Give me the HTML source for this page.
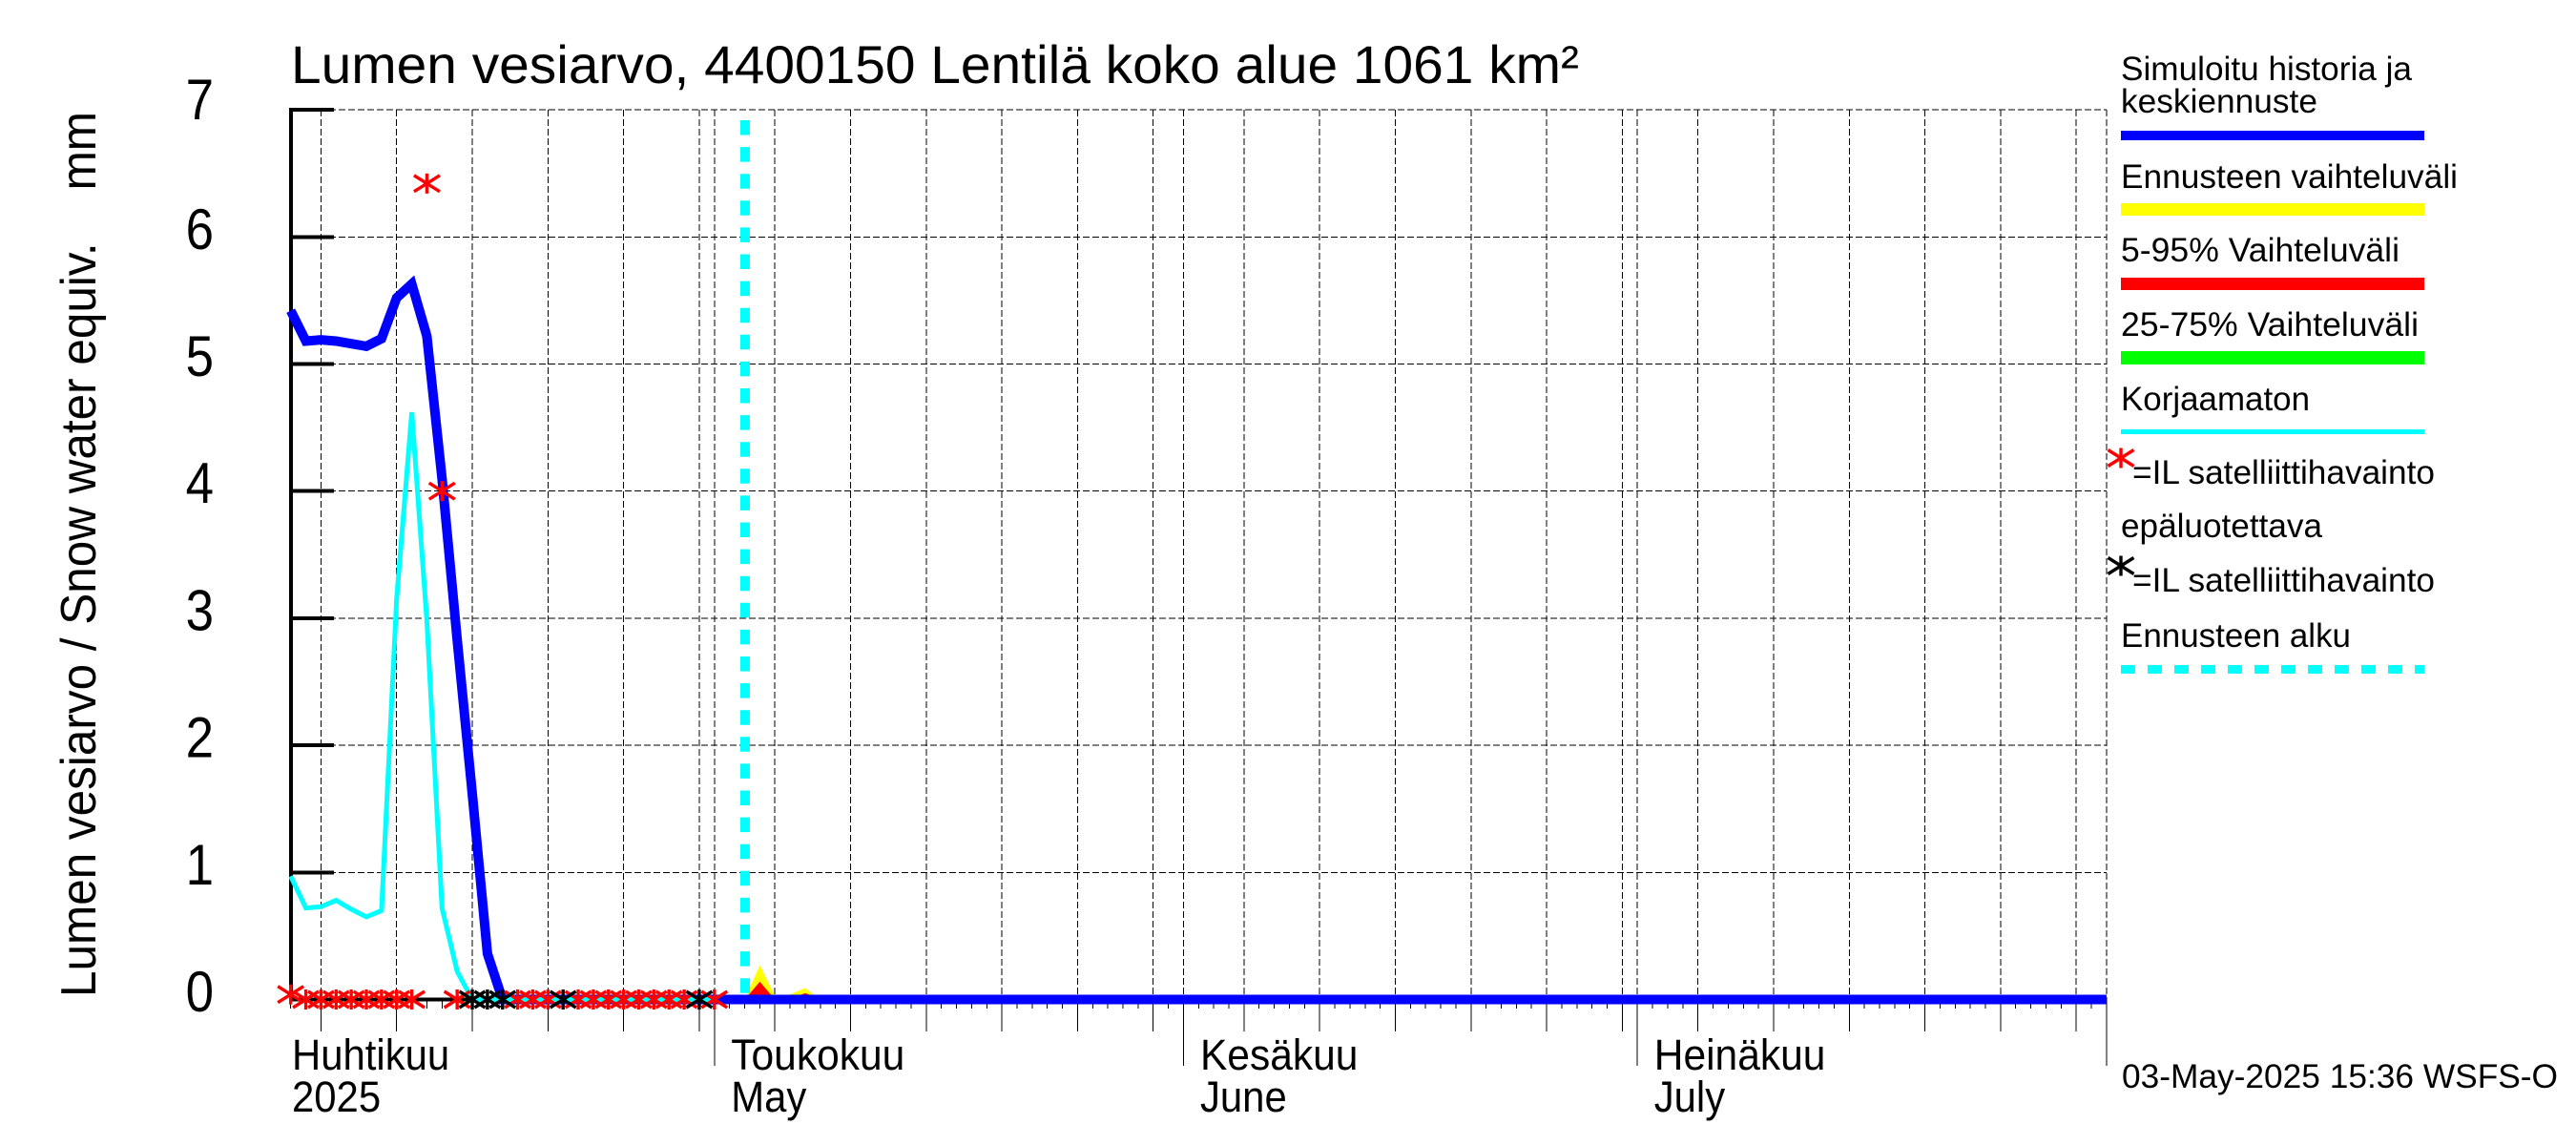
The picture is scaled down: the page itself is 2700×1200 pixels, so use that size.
<!DOCTYPE html>
<html lang="fi">
<head>
<meta charset="utf-8">
<title>Lumen vesiarvo</title>
<style>
html,body{margin:0;padding:0;background:#fff;}
svg{display:block;font-family:"Liberation Sans",sans-serif;}
text{fill:#000;}
</style>
</head>
<body>
<svg id="chart" xmlns="http://www.w3.org/2000/svg" width="2700" height="1200" viewBox="0 0 2700 1200">
  <rect x="0" y="0" width="2700" height="1200" fill="#fff"/>
  <g id="grid" shape-rendering="crispEdges"></g>
  <g id="ticks" shape-rendering="crispEdges"></g>
  <g id="bands"></g>
  <g id="lines"></g>
  <g id="stars"></g>
  <g id="labels"></g>

  <text x="305" y="87" font-size="56" textLength="1350" lengthAdjust="spacingAndGlyphs">Lumen vesiarvo, 4400150 Lentilä koko alue 1061 km²</text>
  <text transform="translate(100,1045) rotate(-90)" font-size="52" textLength="928" lengthAdjust="spacingAndGlyphs" xml:space="preserve">Lumen vesiarvo / Snow water equiv.    mm</text>
  <text x="2224" y="1140" font-size="35" textLength="457" lengthAdjust="spacingAndGlyphs">03-May-2025 15:36 WSFS-O</text>

  <g font-size="35">
    <text x="2223" y="84" textLength="305" lengthAdjust="spacingAndGlyphs">Simuloitu historia ja</text>
    <text x="2223" y="118" textLength="206" lengthAdjust="spacingAndGlyphs">keskiennuste</text>
    <rect x="2223" y="137" width="318" height="10" fill="#0000ff"/>
    <text x="2223" y="197" textLength="353" lengthAdjust="spacingAndGlyphs">Ennusteen vaihteluväli</text>
    <rect x="2223" y="213" width="318" height="13" fill="#ffff00"/>
    <text x="2223" y="274" textLength="292" lengthAdjust="spacingAndGlyphs">5-95% Vaihteluväli</text>
    <rect x="2223" y="291" width="318" height="13" fill="#ff0000"/>
    <text x="2223" y="352" textLength="312" lengthAdjust="spacingAndGlyphs">25-75% Vaihteluväli</text>
    <rect x="2223" y="368" width="318" height="14" fill="#00ff00"/>
    <text x="2223" y="430" textLength="198" lengthAdjust="spacingAndGlyphs">Korjaamaton</text>
    <rect x="2223" y="450" width="318" height="5" fill="#00ffff"/>
    <text x="2235" y="507" textLength="317" lengthAdjust="spacingAndGlyphs">=IL satelliittihavainto</text>
    <text x="2223" y="563" textLength="211" lengthAdjust="spacingAndGlyphs">epäluotettava</text>
    <text x="2235" y="620" textLength="317" lengthAdjust="spacingAndGlyphs">=IL satelliittihavainto</text>
    <text x="2223" y="678" textLength="241" lengthAdjust="spacingAndGlyphs">Ennusteen alku</text>
    <line x1="2223" y1="701.5" x2="2541" y2="701.5" stroke="#00ffff" stroke-width="9" stroke-dasharray="15 13"/>
  </g>
  <g id="legend-stars"></g>
</svg>
<script>
// ---- Chart data (index 0 = 3 April 2025, one entry per day) ----
const yTickValues = [0, 1, 2, 3, 4, 5, 6, 7];
const monthLengths = [30, 31, 30, 31];
const monthNames = ["Huhtikuu", "Toukokuu", "Kesäkuu", "Heinäkuu"];
const monthSubLabels = ["2025", "May", "June", "July"];
const simulated = [5.42,5.18,5.19,5.18,5.16,5.14,5.20,5.52,5.63,5.22,4.10,2.83,1.62,0.36,0,0,0,0,0,0,0,0,0,0,0,0,0,0,0,0,0,0,0,0,0,0,0,0,0,0,0,0,0,0,0,0,0,0,0,0,0,0,0,0,0,0,0,0,0,0,0,0,0,0,0,0,0,0,0,0,0,0,0,0,0,0,0,0,0,0,0,0,0,0,0,0,0,0,0,0,0,0,0,0,0,0,0,0,0,0,0,0,0,0,0,0,0,0,0,0,0,0,0,0,0,0,0,0,0,0,0];
const uncorrected = [0.97,0.72,0.73,0.78,0.71,0.65,0.70,3.15,4.62,2.98,0.72,0.22,0,0,0,0,0,0,0,0,0,0,0,0,0,0,0,0,0];
const forecastDays = [30, 31, 32, 33, 34, 35];
const forecastRangeTop = [0, 0.27, 0.03, 0.04, 0.09, 0];
const band595Top = [0, 0.14, 0, 0, 0.05, 0];
const forecastStartDay = 30.03;
const unreliableObsDays = [0,1,2,3,4,5,6,7,8,9,10,11,15,16,17,19,20,21,22,23,24,25,26,28];
const unreliableObsValues = [0.04,0,0,0,0,0,0,0,0,6.42,4.0,0,0,0,0,0,0,0,0,0,0,0,0,0];
const reliableObsDays = [12,13,14,18,27];
const reliableObsValues = [0,0,0,0,0];

// ---- Axis functions ----
const NS = "http://www.w3.org/2000/svg";
function xScale(day){ return 304.7 + 15.86 * day; }
function yScale(v){ return 1047.5 - 133.2 * v; }
const yearStartOffset = -2; // 1 April relative to the first data day
const plotLeft = 305, plotRight = xScale(120), plotTop = yScale(7), plotBottom = yScale(0);
const gridDash = "7 3", gridWidth = 1;

function make(tag, parent){
  const el = document.createElementNS(NS, tag);
  parent.appendChild(el);
  return el;
}
function segment(parent, x1, y1, x2, y2, color, width, dash){
  const l = make("line", parent);
  l.setAttribute("x1", x1);
  l.setAttribute("y1", y1);
  l.setAttribute("x2", x2);
  l.setAttribute("y2", y2);
  l.setAttribute("stroke", color);
  l.setAttribute("stroke-width", width);
  if (dash) l.setAttribute("stroke-dasharray", dash);
  return l;
}
function label(parent, x, y, size, str, anchor){
  const t = make("text", parent);
  t.setAttribute("x", x);
  t.setAttribute("y", y);
  t.setAttribute("font-size", size);
  if (anchor) t.setAttribute("text-anchor", anchor);
  t.textContent = str;
  return t;
}
function squeeze(t, factor){
  const w = t.getComputedTextLength();
  t.setAttribute("textLength", (w * factor).toFixed(1));
  t.setAttribute("lengthAdjust", "spacingAndGlyphs");
}
function polyline(parent, xs, ys, color, width){
  const p = make("polyline", parent);
  p.setAttribute("points", xs.map((d, i) => xScale(d).toFixed(1) + "," + yScale(ys[i]).toFixed(1)).join(" "));
  p.setAttribute("fill", "none");
  p.setAttribute("stroke", color);
  p.setAttribute("stroke-width", width);
  p.setAttribute("stroke-linejoin", "miter");
  p.setAttribute("stroke-miterlimit", "10");
  return p;
}
function bandPolygon(parent, days, tops, color){
  const p = make("polygon", parent);
  const upper = days.map((d, i) => xScale(d).toFixed(1) + "," + yScale(tops[i]).toFixed(1));
  const lower = [xScale(days[days.length - 1]).toFixed(1) + "," + yScale(0).toFixed(1), xScale(days[0]).toFixed(1) + "," + yScale(0).toFixed(1)];
  p.setAttribute("points", upper.concat(lower).join(" "));
  p.setAttribute("fill", color);
  return p;
}
function star(parent, cx, cy, color, k){
  const g = make("g", parent);
  const a = 13.5 * k, b = 8.5 * k, c = 10.5 * k;
  segment(g, cx, cy - c, cx, cy + c, color, 3.4 * k);
  segment(g, cx - a, cy - b, cx + a, cy + b, color, 3.4 * k);
  segment(g, cx - a, cy + b, cx + a, cy - b, color, 3.4 * k);
  return g;
}

const gridG = document.getElementById("grid");
const ticksG = document.getElementById("ticks");
const bandsG = document.getElementById("bands");
const linesG = document.getElementById("lines");
const starsG = document.getElementById("stars");
const labelsG = document.getElementById("labels");
const legendStarsG = document.getElementById("legend-stars");

// Horizontal grid, y ticks and labels
yTickValues.forEach(v => {
  const y = yScale(v);
  if (v > 0) {
    const gl = segment(gridG, plotLeft, y, plotRight, y, "#000", gridWidth, gridDash);
    
    
    const tk = segment(ticksG, plotLeft - 2, y, 350, y, "#000", 4);
    
    
  }
  const t = label(labelsG, 224, y + (v === 7 ? 10 : 12.5), 60, String(v), "end");
  
  
  squeeze(t, 0.88);
});

// Vertical grid and x ticks, derived from the calendar
let monthStart = yearStartOffset;
monthLengths.forEach((len, m) => {
  for (let dom = 1; dom <= len; dom++) {
    const day = monthStart + dom - 1;
    if (day < 0) continue;
    const x = xScale(day);
    const isFifth = dom % 5 === 0;
    const isFirst = dom === 1;
    if (isFifth || isFirst) {
      const gl = segment(gridG, x, plotTop, x, plotBottom, "#000", gridWidth, gridDash);
      
      
    }
    const bottom = isFirst ? 1117 : (isFifth ? 1081 : 1057);
    const tk = segment(ticksG, x, plotBottom, x, bottom, "#000", gridWidth);
    
    
  }
  const labelX = m === 0 ? 306 : xScale(monthStart) + 17.5;
  const t1 = label(labelsG, labelX, 1121, 45, monthNames[m]);
  
  
  squeeze(t1, m === 0 ? 0.93 : 0.945);
  const t2 = label(labelsG, labelX, 1165, 45, monthSubLabels[m]);
  
  
  squeeze(t2, 0.93);
  monthStart += len;
});
const endGrid = segment(gridG, plotRight, plotTop, plotRight, plotBottom, "#000", gridWidth, gridDash);


const endTick = segment(ticksG, plotRight, plotBottom, plotRight, 1117, "#000", gridWidth);



// Axis lines
const yAxis = segment(ticksG, plotLeft, plotTop - 2, plotLeft, plotBottom, "#000", 4);


const xAxis = segment(ticksG, plotLeft, plotBottom, plotRight, plotBottom, "#000", 4);



// Forecast bands
const yellowBand = bandPolygon(bandsG, forecastDays, forecastRangeTop, "#ffff00");


const redBand = bandPolygon(bandsG, forecastDays, band595Top, "#ff0000");



// Forecast start marker
const startLine = segment(linesG, xScale(forecastStartDay), 126, xScale(forecastStartDay), plotBottom - 4, "#00ffff", 10, "15.5 12.6");



// Series lines
const blueLine = polyline(linesG, simulated.map((_, i) => i), simulated, "#0000ff", 10);


const cyanLine = polyline(linesG, uncorrected.map((_, i) => i), uncorrected, "#00ffff", 5);



// Observation markers
unreliableObsDays.forEach((d, i) => {
  const s = star(starsG, xScale(d), yScale(unreliableObsValues[i]), "#ff0000", 1);
  
  
});
reliableObsDays.forEach((d, i) => {
  const s = star(starsG, xScale(d), yScale(reliableObsValues[i]), "#000000", 1);
  
  
});

// Legend markers
const legendRed = star(legendStarsG, 2223, 480, "#ff0000", 1);


const legendBlack = star(legendStarsG, 2223, 593, "#000000", 1);


</script>
</body>
</html>
